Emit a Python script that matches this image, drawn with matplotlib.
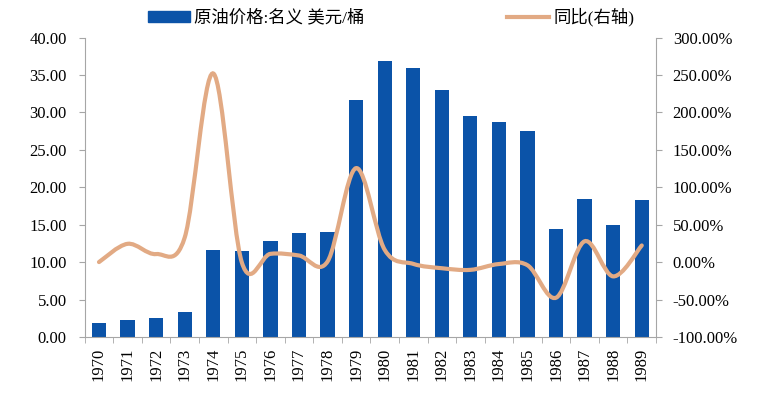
import matplotlib
matplotlib.use("Agg")
import matplotlib.pyplot as plt
from matplotlib.path import Path
from matplotlib.patches import PathPatch
from matplotlib.lines import Line2D
from matplotlib.patches import Patch
import matplotlib.ticker as mticker
import numpy as np

years = ["1970", "1971", "1972", "1973", "1974", "1975", "1976", "1977", "1978", "1979",
         "1980", "1981", "1982", "1983", "1984", "1985", "1986", "1987", "1988", "1989"]
price = [1.80, 2.24, 2.48, 3.29, 11.58, 11.53, 12.80, 13.92, 14.02, 31.61,
         36.83, 35.93, 32.97, 29.55, 28.78, 27.56, 14.43, 18.44, 14.92, 18.23]
yoy = [0.0, 24.4, 10.7, 32.7, 252.0, -0.4, 11.0, 8.8, 0.7, 125.5,
       16.5, -2.4, -8.2, -10.4, -2.6, -4.2, -47.6, 27.8, -19.1, 22.2]

blue = "#0B53A8"
tan = "#E2AA84"
grey = "#A6A6A6"
num_font = "Liberation Serif"
cjk = ["Liberation Serif", "Noto Sans CJK SC"]

fig = plt.figure(figsize=(7.7, 3.95), dpi=100)
ax = fig.add_axes([0.110, 0.147, 0.742, 0.758])
ax2 = ax.twinx()

x = np.arange(len(years))
ax.bar(x, price, width=0.5, color=blue, zorder=2)
ax.set_xlim(-0.5, len(years) - 0.5)
ax.set_ylim(0, 40)
ax.yaxis.set_major_locator(mticker.MultipleLocator(5))
ax.yaxis.set_major_formatter(mticker.FormatStrFormatter("%.2f"))
ax2.set_ylim(-100, 300)
ax2.yaxis.set_major_locator(mticker.MultipleLocator(50))
ax2.yaxis.set_major_formatter(mticker.FormatStrFormatter("%.2f%%"))

# smoothed line (Excel style bezier through the data points)
pts = np.column_stack([x, yoy]).astype(float)
verts = [tuple(pts[0])]
codes = [Path.MOVETO]
n = len(pts)
for i in range(n - 1):
    p0 = pts[i - 1] if i > 0 else pts[i]
    p1 = pts[i]
    p2 = pts[i + 1]
    p3 = pts[i + 2] if i + 2 < n else pts[i + 1]
    c1 = p1 + (p2 - p0) / 6.0
    c2 = p2 - (p3 - p1) / 6.0
    verts += [tuple(c1), tuple(c2), tuple(p2)]
    codes += [Path.CURVE4] * 3
ax2.add_patch(PathPatch(Path(verts, codes), fill=False, edgecolor=tan, lw=3,
                        capstyle="round", zorder=3))

ax.set_xticks(x)
ax.set_xticklabels(years, rotation=90, fontfamily=num_font, fontsize=12)
ax.xaxis.set_minor_locator(mticker.FixedLocator(np.arange(-0.5, len(years), 1)))
ax.tick_params(axis="x", which="major", length=0, pad=8)
ax.tick_params(axis="x", which="minor", length=4, color=grey, direction="out")
ax.tick_params(axis="y", length=4, color=grey, labelsize=12, pad=9)
ax2.tick_params(axis="y", length=4, color=grey, labelsize=12, pad=8)
for lab in ax.get_yticklabels() + ax2.get_yticklabels():
    lab.set_fontfamily(num_font)

for a in (ax, ax2):
    a.spines["top"].set_visible(False)
    for s in ("left", "right", "bottom"):
        a.spines[s].set_color(grey)
ax.spines["right"].set_visible(False)
ax2.spines["left"].set_visible(False)
ax2.spines["bottom"].set_visible(False)
ax.set_zorder(ax2.get_zorder() - 1)
ax2.patch.set_visible(False)

handles = [Patch(facecolor=blue, edgecolor=blue),
           Line2D([0], [0], color=tan, lw=3)]
labels = ["原油价格:名义 美元/桶", "同比(右轴)"]
fig.legend(handles, labels, loc="center", bbox_to_anchor=(0.508, 0.957), ncol=2,
           frameon=False, columnspacing=8.2, handlelength=2.4, handleheight=0.6,
           handletextpad=0.25, prop={"family": cjk, "size": 12.5})

fig.savefig("out.png", dpi=100)
